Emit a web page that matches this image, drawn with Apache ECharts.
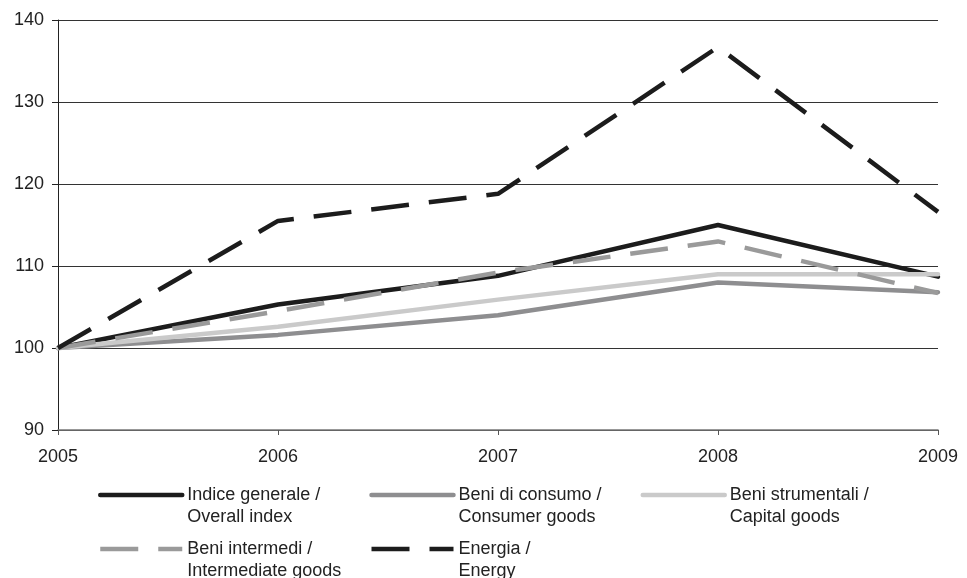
<!DOCTYPE html>
<html><head><meta charset="utf-8">
<script src="https://cdn.jsdelivr.net/npm/echarts@6/dist/echarts.min.js"></script>
<style>html,body{margin:0;padding:0;background:#fff}#c{width:967px;height:578px}</style>
</head><body><div id="c"></div>
<script>
const years = ['2005','2006','2007','2008','2009'];
const overall = [100, 105.3, 108.8, 115.0, 108.7];
const consumer = [100, 101.6, 104.0, 108.0, 106.8];
const capital = [100, 102.6, 105.9, 109.0, 109.0];
const intermediate = [100, 104.5, 109.2, 113.0, 106.7];
const energy = [100, 115.5, 118.8, 136.7, 116.6];
const names = ['Indice generale /\nOverall index','Beni di consumo /\nConsumer goods','Beni strumentali /\nCapital goods','Beni intermedi /\nIntermediate goods','Energia /\nEnergy'];
const yTicks = {min: 90, max: 140, interval: 10};

const font = 'Liberation Sans, Arial, sans-serif';
const mk = (name, data, color, dashed) => ({
  name, type: 'line', data, symbol: 'none', smooth: false,
  lineStyle: {color, width: 4.5, type: dashed ? [38, 20] : 'solid', cap: dashed ? 'butt' : 'round'},
  itemStyle: {color}
});
const legendBase = {
  left: 98, width: 840, padding: 0, orient: 'horizontal',
  itemWidth: 82, itemHeight: 10, itemGap: 7,
  itemStyle: {opacity: 0},
  lineStyle: {width: 4.5},
  formatter: n => ' \n' + n,
  textStyle: {fontFamily: font, fontSize: 18, color: '#222', lineHeight: 22, width: 175}
};
const chart = echarts.init(document.getElementById('c'));
chart.setOption({
  animation: false,
  backgroundColor: '#fff',
  grid: {left: 58, right: 29, top: 20, bottom: 148},
  xAxis: {
    type: 'category', data: years, boundaryGap: false,
    axisLine: {lineStyle: {color: '#777', width: 1.5}},
    axisTick: {show: true, length: 5, lineStyle: {color: '#555'}},
    axisLabel: {fontFamily: font, fontSize: 18, color: '#222', margin: 18}
  },
  yAxis: {
    type: 'value', min: yTicks.min, max: yTicks.max, interval: yTicks.interval,
    axisLine: {show: true, lineStyle: {color: '#222', width: 1}},
    axisTick: {show: true, length: 6, lineStyle: {color: '#222'}},
    axisLabel: {fontFamily: font, fontSize: 18, color: '#222', margin: 14},
    splitLine: {lineStyle: {color: '#333', width: 1}}
  },
  legend: [
    Object.assign({}, legendBase, {data: [names[0], names[1], names[2]], top: 462}),
    Object.assign({}, legendBase, {data: [names[3], names[4]], top: 516})
  ],
  series: [
    mk(names[0], overall, '#1c1c1c', false),
    mk(names[1], consumer, '#8e8e90', false),
    mk(names[2], capital, '#cacaca', false),
    mk(names[3], intermediate, '#9a9a9a', true),
    mk(names[4], energy, '#1c1c1c', true)
  ]
});
</script></body></html>
